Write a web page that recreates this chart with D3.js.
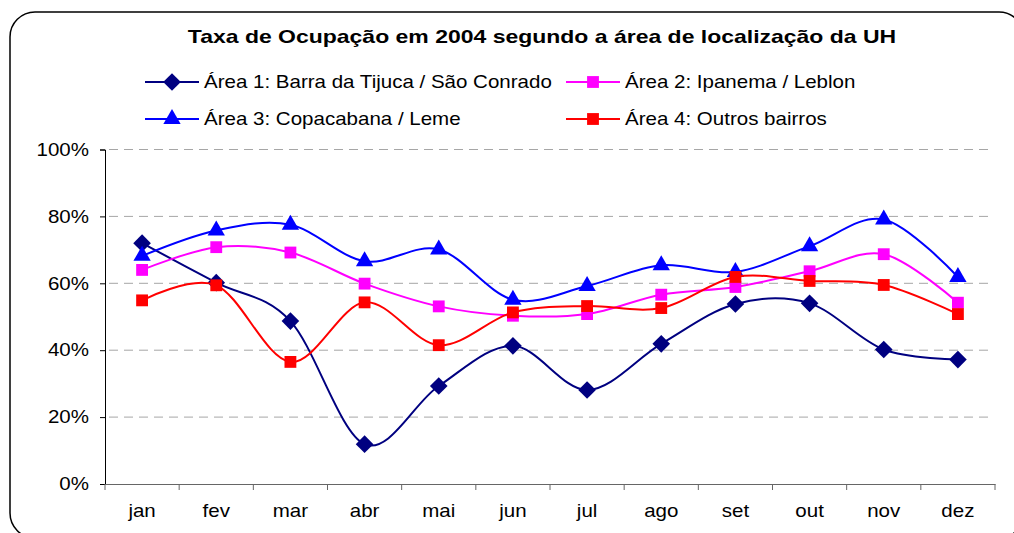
<!DOCTYPE html>
<html>
<head>
<meta charset="utf-8">
<script src="https://cdn.jsdelivr.net/npm/d3@7"></script>
<style>
  body { margin: 0; background: #fff; }
  svg { display: block; font-family: "Liberation Sans", Arial, sans-serif; }
</style>
</head>
<body>
<svg id="chart" width="1014" height="533"></svg>
<script>
// ===== 데이터 =====
const months = ["jan", "fev", "mar", "abr", "mai", "jun", "jul", "ago", "set", "out", "nov", "dez"];
const yTicks = [0, 0.2, 0.4, 0.6, 0.8, 1.0];

const area1 = [0.72, 0.602, 0.487, 0.119, 0.293, 0.413, 0.281, 0.419, 0.538, 0.54, 0.402, 0.372];
const area2 = [0.64, 0.708, 0.692, 0.599, 0.531, 0.503, 0.508, 0.566, 0.589, 0.636, 0.687, 0.542];
const area3 = [0.682, 0.758, 0.775, 0.666, 0.701, 0.551, 0.592, 0.654, 0.634, 0.711, 0.791, 0.619];
const area4 = [0.549, 0.594, 0.365, 0.543, 0.415, 0.513, 0.532, 0.526, 0.619, 0.607, 0.595, 0.508];

const seriesNames = [
	"Área 1: Barra da Tijuca / São Conrado",
	"Área 2: Ipanema / Leblon",
	"Área 3: Copacabana / Leme",
	"Área 4: Outros bairros"
];

const series = [
	{ name: seriesNames[0], values: area1, color: "#000080", marker: "diamond" },
	{ name: seriesNames[1], values: area2, color: "#ff00ff", marker: "square" },
	{ name: seriesNames[2], values: area3, color: "#0000ff", marker: "triangle" },
	{ name: seriesNames[3], values: area4, color: "#ff0000", marker: "square" }
];

// 원본 그림은 가로로 약간 늘어나 있음
const SX_TITLE = 1.21, SX_TEXT = 1.14;

const svg = d3.select("#chart");

// 바깥 테두리 (둥근 사각형)
svg.append("rect")
	.attr("x", 10).attr("y", 12)
	.attr("width", 1014).attr("height", 526)
	.attr("rx", 25).attr("ry", 25)
	.attr("fill", "#fff")
	.attr("stroke", "#000")
	.attr("stroke-width", 1.5);

// 제목
svg.append("text")
	.attr("transform", `translate(542,43) scale(${SX_TITLE},1)`)
	.attr("text-anchor", "middle")
	.style("font-size", "19px")
	.style("font-weight", "bold")
	.text("Taxa de Ocupação em 2004 segundo a área de localização da UH");

// ===== 스케일 =====
const plot = { left: 105, right: 995, top: 149.5, bottom: 484 };

const x = d3.scaleBand()
	.domain(months)
	.range([plot.left, plot.right])
	.padding(0);

const y = d3.scaleLinear()
	.domain([0, 1])
	.range([plot.bottom, plot.top]);

// 그리드
svg.append("g")
	.selectAll("line")
	.data(yTicks.filter(d => d > 0))
	.join("line")
	.attr("x1", plot.left + 4)
	.attr("x2", plot.right - 6)
	.attr("y1", d => y(d))
	.attr("y2", d => y(d))
	.attr("stroke", "#a6a6a6")
	.attr("stroke-width", 1)
	.attr("stroke-dasharray", "9,6");

// Y축
const yAxis = svg.append("g")
	.attr("transform", `translate(${plot.left},0)`)
	.call(d3.axisLeft(y).tickValues(yTicks).tickFormat(d3.format(".0%")).tickSizeOuter(0).tickSize(5).tickPadding(10));
yAxis.select(".domain").attr("stroke", "#000");
yAxis.selectAll("line").attr("stroke", "#000");
yAxis.selectAll("text")
	.style("font-size", "18px")
	.attr("fill", "#000")
	.attr("x", -16 / SX_TEXT)
	.attr("transform", `scale(${SX_TEXT},1)`);

// X축
const xAxis = svg.append("g")
	.attr("transform", `translate(0,${plot.bottom})`)
	.call(d3.axisBottom(x).tickSize(0).tickSizeOuter(0).tickPadding(20));
xAxis.select(".domain").attr("stroke", "#666");
xAxis.selectAll("text")
	.style("font-size", "18px")
	.attr("fill", "#000")
	.attr("transform", `scale(${SX_TEXT},1)`);

// 눈금 (구간 경계)
svg.append("g")
	.selectAll("line")
	.data(months.concat(["end"]))
	.join("line")
	.attr("x1", (d, i) => plot.left + i * x.bandwidth())
	.attr("x2", (d, i) => plot.left + i * x.bandwidth())
	.attr("y1", plot.bottom)
	.attr("y2", plot.bottom + 6)
	.attr("stroke", "#666");

// ===== 마커 =====
const symbolOf = {
	diamond: d3.symbol().type(d3.symbolDiamond2).size(150),
	square: d3.symbol().type(d3.symbolSquare).size(140),
	triangle: d3.symbol().type(d3.symbolTriangle).size(130)
};

function drawMarker(g, s, cx, cy) {
	let path = g.append("path")
		.attr("d", symbolOf[s.marker]())
		.attr("fill", s.color)
		.attr("transform", `translate(${cx},${cy})`);
	if (s.marker === "diamond") path.attr("transform", `translate(${cx},${cy}) scale(1.15)`);
}

// ===== 선 =====
const line = d3.line()
	.x((d, i) => x(months[i]) + x.bandwidth() / 2)
	.y(d => y(d))
	.curve(d3.curveCardinal.tension(0));

series.forEach(s => {
	const g = svg.append("g");
	g.append("path")
		.attr("d", line(s.values))
		.attr("fill", "none")
		.attr("stroke", s.color)
		.attr("stroke-width", 2);
	s.values.forEach((v, i) => {
		drawMarker(g, s, x(months[i]) + x.bandwidth() / 2, y(v));
	});
});

// ===== 범례 =====
const legendPos = [
	{ x: 145, y: 82 },
	{ x: 566, y: 82 },
	{ x: 145, y: 119 },
	{ x: 566, y: 119 }
];

series.forEach((s, i) => {
	const p = legendPos[i];
	const g = svg.append("g");
	g.append("line")
		.attr("x1", p.x).attr("x2", p.x + 54)
		.attr("y1", p.y).attr("y2", p.y)
		.attr("stroke", s.color)
		.attr("stroke-width", 2);
	drawMarker(g, s, p.x + 27, p.y);
	g.append("text")
		.attr("transform", `translate(${p.x + 59},${p.y}) scale(${SX_TEXT},1)`)
		.attr("dy", "0.35em")
		.style("font-size", "18px")
		.text(s.name);
});
</script>
</body>
</html>
